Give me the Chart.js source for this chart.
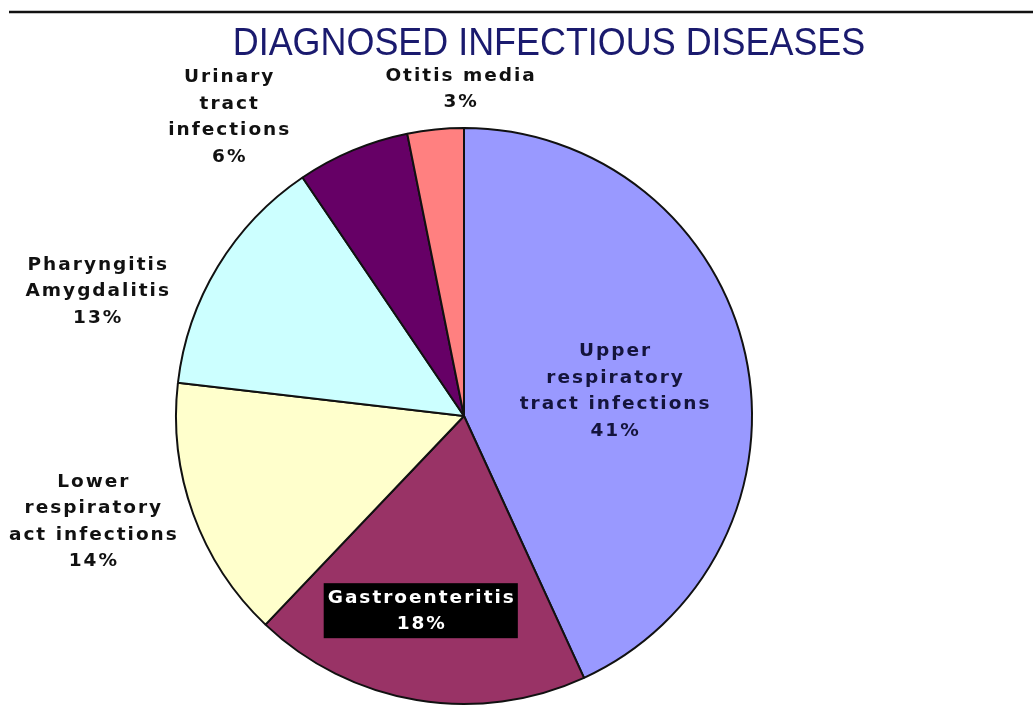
<!DOCTYPE html>
<html>
<head>
<meta charset="utf-8">
<title>Diagnosed infectious diseases</title>
<script src="https://cdn.jsdelivr.net/npm/chart.js@4"></script>
<style>
  body { margin: 0; background: #fff; }
</style>
</head>
<body>
<canvas id="myChart" width="1033" height="706"></canvas>
<script>
// slice names, one entry per line of the label
const diseaseNames = [
  ['Upper', 'respiratory', 'tract infections'],
  ['Gastroenteritis'],
  ['Lower', 'respiratory', 'act infections'],
  ['Pharyngitis', 'Amygdalitis'],
  ['Urinary', 'tract', 'infections'],
  ['Otitis media']
];
const diseasePercent = [41, 18, 14, 13, 6, 3];
const sliceColors = ['#9999ff', '#993366', '#ffffcc', '#ccffff', '#660066', '#ff8080'];

// where each label sits: [fraction of radius, degrees turned from the slice middle]
const labelSpots = [[0.53, 3], [0.695, 3], [1.34, 4], [1.345, -12.5], [1.32, -15.5], [1.135, 5]];
const labelInk = ['#14143c', '#ffffff', '#111111', '#111111', '#111111', '#111111'];

const labelPlugin = {
  id: 'sliceLabels',
  afterDatasetsDraw(chart) {
    const ctx = chart.ctx;
    const arcs = chart.getDatasetMeta(0).data;
    ctx.save();
    ctx.font = 'bold 18.5px "DejaVu Sans"';
    ctx.letterSpacing = '2px';
    ctx.textAlign = 'center';
    ctx.textBaseline = 'middle';
    const lineH = 26.5;
    arcs.forEach((arc, i) => {
      const p = arc.getProps(['x', 'y', 'startAngle', 'endAngle', 'outerRadius'], true);
      const mid = (p.startAngle + p.endAngle) / 2 + labelSpots[i][1] * Math.PI / 180;
      const r = p.outerRadius * labelSpots[i][0];
      const cx = p.x + Math.cos(mid) * r;
      const cy = p.y + Math.sin(mid) * r;
      const lines = diseaseNames[i].concat([diseasePercent[i] + '%']);
      const top = cy - (lines.length - 1) * lineH / 2;
      if (i === 1) {
        // gastroenteritis sits on a black box
        let w = 0;
        lines.forEach(t => { w = Math.max(w, ctx.measureText(t).width); });
        ctx.fillStyle = '#000';
        ctx.fillRect(cx - w / 2 - 3, top - 15, w + 6, lines.length * lineH + 2);
      }
      ctx.fillStyle = labelInk[i];
      lines.forEach((t, k) => ctx.fillText(t, cx + 1, top + k * lineH));
    });
    ctx.restore();
  }
};

const titlePlugin = {
  id: 'headline',
  afterDraw(chart) {
    const ctx = chart.ctx;
    ctx.save();
    ctx.strokeStyle = '#111';
    ctx.lineWidth = 2.5;
    ctx.beginPath();
    ctx.moveTo(9, 12);
    ctx.lineTo(1033, 12);
    ctx.stroke();
    ctx.fillStyle = '#1a1a6e';
    ctx.font = '38px "Liberation Sans", Arial, sans-serif';
    ctx.textAlign = 'center';
    ctx.textBaseline = 'alphabetic';
    ctx.translate(549, 55);
    ctx.scale(0.945, 1);
    ctx.fillText('DIAGNOSED INFECTIOUS DISEASES', 0, 0);
    ctx.restore();
  }
};

const ctx = document.getElementById('myChart').getContext('2d');
new Chart(ctx, {
  type: 'pie',
  data: {
    labels: diseaseNames.map(n => n.join(' ')),
    datasets: [{
      data: diseasePercent,
      backgroundColor: sliceColors,
      borderColor: '#111',
      borderWidth: 2
    }]
  },
  options: {
    responsive: false,
    animation: false,
    layout: { padding: { top: 127, bottom: 1, left: 0, right: 105 } },
    plugins: {
      legend: { display: false },
      tooltip: { enabled: false },
      title: { display: false }
    }
  },
  plugins: [labelPlugin, titlePlugin]
});
</script>
</body>
</html>
